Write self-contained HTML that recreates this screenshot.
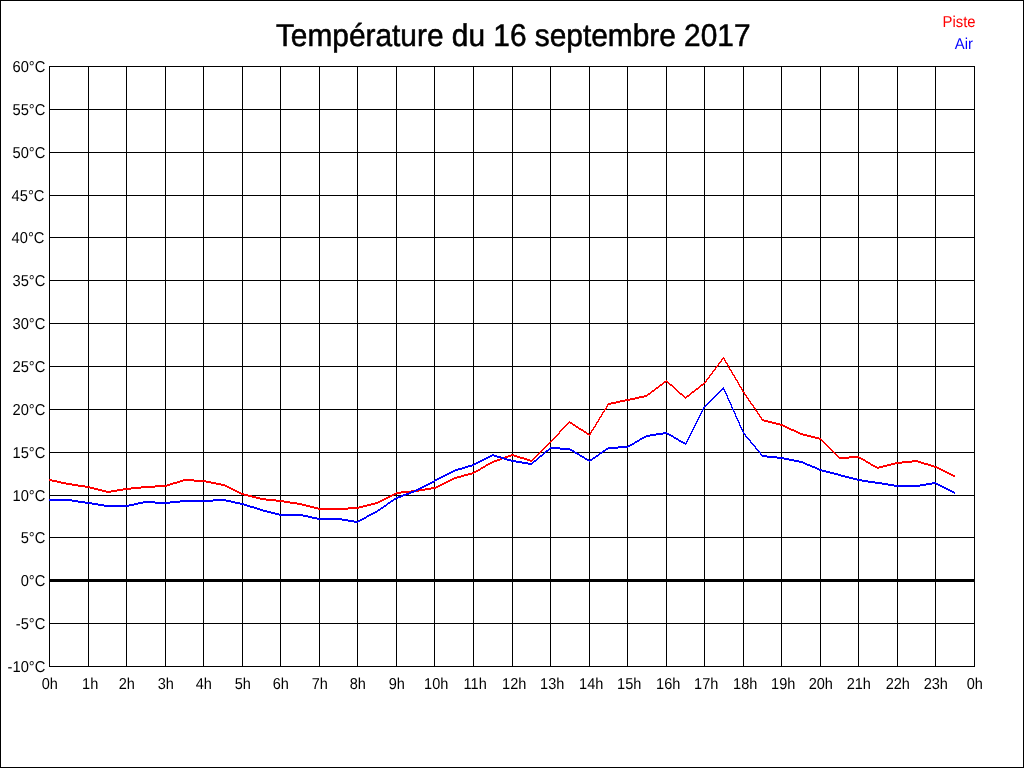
<!DOCTYPE html>
<html><head><meta charset="utf-8"><title>Température du 16 septembre 2017</title>
<style>
html,body{margin:0;padding:0;background:#fff;}
body{width:1024px;height:768px;overflow:hidden;position:relative;font-family:"Liberation Sans",sans-serif;}
svg{position:absolute;left:0;top:0;will-change:transform;}
text{font-family:"Liberation Sans",sans-serif;text-rendering:geometricPrecision;}
</style></head><body>
<svg width="1024" height="768" viewBox="0 0 1024 768">
<rect x="0.5" y="0.5" width="1023" height="767" fill="#fff" stroke="#000" stroke-width="1" shape-rendering="crispEdges"/>
<g stroke="#000" stroke-width="1" shape-rendering="crispEdges">
<line x1="49.5" y1="66" x2="49.5" y2="667"/>
<line x1="88.5" y1="66" x2="88.5" y2="667"/>
<line x1="126.5" y1="66" x2="126.5" y2="667"/>
<line x1="165.5" y1="66" x2="165.5" y2="667"/>
<line x1="203.5" y1="66" x2="203.5" y2="667"/>
<line x1="242.5" y1="66" x2="242.5" y2="667"/>
<line x1="280.5" y1="66" x2="280.5" y2="667"/>
<line x1="319.5" y1="66" x2="319.5" y2="667"/>
<line x1="357.5" y1="66" x2="357.5" y2="667"/>
<line x1="396.5" y1="66" x2="396.5" y2="667"/>
<line x1="434.5" y1="66" x2="434.5" y2="667"/>
<line x1="473.5" y1="66" x2="473.5" y2="667"/>
<line x1="512.5" y1="66" x2="512.5" y2="667"/>
<line x1="550.5" y1="66" x2="550.5" y2="667"/>
<line x1="589.5" y1="66" x2="589.5" y2="667"/>
<line x1="627.5" y1="66" x2="627.5" y2="667"/>
<line x1="666.5" y1="66" x2="666.5" y2="667"/>
<line x1="704.5" y1="66" x2="704.5" y2="667"/>
<line x1="743.5" y1="66" x2="743.5" y2="667"/>
<line x1="781.5" y1="66" x2="781.5" y2="667"/>
<line x1="820.5" y1="66" x2="820.5" y2="667"/>
<line x1="858.5" y1="66" x2="858.5" y2="667"/>
<line x1="897.5" y1="66" x2="897.5" y2="667"/>
<line x1="935.5" y1="66" x2="935.5" y2="667"/>
<line x1="974.5" y1="66" x2="974.5" y2="667"/>
<line x1="49" y1="66.5" x2="975" y2="66.5"/>
<line x1="49" y1="109.5" x2="975" y2="109.5"/>
<line x1="49" y1="152.5" x2="975" y2="152.5"/>
<line x1="49" y1="195.5" x2="975" y2="195.5"/>
<line x1="49" y1="237.5" x2="975" y2="237.5"/>
<line x1="49" y1="280.5" x2="975" y2="280.5"/>
<line x1="49" y1="323.5" x2="975" y2="323.5"/>
<line x1="49" y1="366.5" x2="975" y2="366.5"/>
<line x1="49" y1="409.5" x2="975" y2="409.5"/>
<line x1="49" y1="452.5" x2="975" y2="452.5"/>
<line x1="49" y1="495.5" x2="975" y2="495.5"/>
<line x1="49" y1="537.5" x2="975" y2="537.5"/>
<line x1="49" y1="580.5" x2="975" y2="580.5"/>
<line x1="49" y1="623.5" x2="975" y2="623.5"/>
<line x1="49" y1="666.5" x2="975" y2="666.5"/>
</g>
<rect x="49" y="579" width="926" height="3" fill="#000" shape-rendering="crispEdges"/>
<path fill="#f00" shape-rendering="crispEdges" d="M723 357h1v2h-1zM722 358h1v2h-1zM724 358h1v3h-1zM721 359h1v3h-1zM725 360h1v3h-1zM720 361h1v2h-1zM719 362h1v2h-1zM726 362h1v2h-1zM718 363h1v3h-1zM727 363h1v3h-1zM717 365h1v2h-1zM728 365h1v3h-1zM716 366h1v2h-1zM715 367h1v3h-1zM729 367h1v3h-1zM714 369h1v2h-1zM730 369h1v2h-1zM713 370h1v2h-1zM731 370h1v3h-1zM712 371h1v3h-1zM732 372h1v3h-1zM711 373h1v2h-1zM710 374h1v2h-1zM733 374h1v2h-1zM709 375h1v3h-1zM734 375h1v3h-1zM708 377h1v2h-1zM735 377h1v3h-1zM707 378h1v2h-1zM736 379h1v2h-1zM706 379h1v3h-1zM666 380h1v2h-1zM737 380h1v3h-1zM664 381h2v2h-2zM667 381h1v2h-1zM705 381h1v2h-1zM663 382h1v2h-1zM668 382h1v2h-1zM704 382h1v2h-1zM738 382h1v3h-1zM662 383h1v2h-1zM669 383h1v2h-1zM703 383h1v2h-1zM660 384h2v2h-2zM670 384h2v2h-2zM701 384h2v2h-2zM739 384h1v3h-1zM659 385h1v2h-1zM672 385h1v2h-1zM700 385h1v2h-1zM658 386h1v2h-1zM673 386h1v2h-1zM699 386h1v2h-1zM740 386h1v2h-1zM656 387h2v2h-2zM674 387h1v2h-1zM698 387h1v2h-1zM741 387h1v3h-1zM655 388h1v2h-1zM675 388h1v2h-1zM696 388h2v2h-2zM654 389h1v2h-1zM676 389h1v2h-1zM695 389h1v2h-1zM742 389h1v3h-1zM652 390h2v2h-2zM677 390h1v2h-1zM694 390h1v2h-1zM651 391h1v2h-1zM678 391h1v2h-1zM692 391h2v2h-2zM743 391h1v2h-1zM650 392h1v2h-1zM679 392h1v2h-1zM691 392h1v2h-1zM744 392h1v3h-1zM648 393h2v2h-2zM680 393h2v2h-2zM690 393h1v2h-1zM647 394h1v2h-1zM682 394h1v2h-1zM689 394h1v2h-1zM745 394h1v2h-1zM644 395h3v2h-3zM683 395h1v2h-1zM687 395h2v2h-2zM746 395h1v3h-1zM639 396h5v2h-5zM684 396h1v2h-1zM686 396h1v2h-1zM635 397h4v2h-4zM685 397h1v2h-1zM747 397h1v2h-1zM630 398h5v2h-5zM748 398h1v3h-1zM625 399h5v2h-5zM620 400h5v2h-5zM749 400h1v2h-1zM616 401h4v2h-4zM750 401h1v3h-1zM611 402h5v2h-5zM608 403h3v2h-3zM751 403h1v2h-1zM752 404h1v2h-1zM607 404h1v3h-1zM753 405h1v3h-1zM606 406h1v3h-1zM754 407h1v2h-1zM605 408h1v2h-1zM755 408h1v3h-1zM604 409h1v3h-1zM756 410h1v2h-1zM603 411h1v2h-1zM757 411h1v3h-1zM602 412h1v3h-1zM758 413h1v2h-1zM601 414h1v3h-1zM759 414h1v3h-1zM600 416h1v2h-1zM760 416h1v2h-1zM599 417h1v3h-1zM761 417h1v3h-1zM762 419h2v2h-2zM598 419h1v3h-1zM764 420h4v2h-4zM569 421h1v2h-1zM597 421h1v2h-1zM768 421h4v2h-4zM568 422h1v2h-1zM570 422h2v2h-2zM772 422h4v2h-4zM596 422h1v3h-1zM567 423h1v2h-1zM572 423h1v2h-1zM776 423h4v2h-4zM566 424h1v2h-1zM573 424h2v2h-2zM780 424h3v2h-3zM595 424h1v3h-1zM565 425h1v2h-1zM575 425h1v2h-1zM783 425h2v2h-2zM564 426h1v2h-1zM576 426h2v2h-2zM594 426h1v2h-1zM785 426h2v2h-2zM563 427h1v2h-1zM578 427h1v2h-1zM787 427h2v2h-2zM593 427h1v3h-1zM562 428h1v2h-1zM579 428h2v2h-2zM789 428h2v2h-2zM561 429h1v2h-1zM581 429h2v2h-2zM592 429h1v2h-1zM791 429h3v2h-3zM560 430h1v2h-1zM583 430h1v2h-1zM794 430h2v2h-2zM591 430h1v3h-1zM584 431h2v2h-2zM796 431h2v2h-2zM559 431h1v3h-1zM586 432h1v2h-1zM798 432h2v2h-2zM590 432h1v3h-1zM558 433h1v2h-1zM587 433h2v2h-2zM800 433h3v2h-3zM557 434h1v2h-1zM589 434h1v2h-1zM803 434h4v2h-4zM556 435h1v2h-1zM807 435h4v2h-4zM555 436h1v2h-1zM811 436h4v2h-4zM554 437h1v2h-1zM815 437h4v2h-4zM553 438h1v2h-1zM819 438h2v2h-2zM552 439h1v2h-1zM821 439h1v2h-1zM551 440h1v2h-1zM822 440h1v2h-1zM550 441h1v2h-1zM823 441h1v2h-1zM549 442h1v2h-1zM824 442h1v2h-1zM548 443h1v2h-1zM825 443h1v2h-1zM547 444h1v2h-1zM826 444h1v2h-1zM546 445h1v2h-1zM827 445h1v2h-1zM545 446h1v2h-1zM828 446h1v2h-1zM544 447h1v2h-1zM829 447h1v2h-1zM543 448h1v2h-1zM830 448h1v2h-1zM542 449h1v2h-1zM831 449h1v2h-1zM541 450h1v2h-1zM832 450h1v2h-1zM540 451h1v2h-1zM833 451h1v2h-1zM539 452h1v2h-1zM834 452h1v2h-1zM538 453h1v2h-1zM835 453h1v2h-1zM511 454h3v2h-3zM537 454h1v2h-1zM836 454h1v2h-1zM508 455h3v2h-3zM514 455h3v2h-3zM536 455h1v2h-1zM837 455h1v2h-1zM505 456h3v2h-3zM517 456h3v2h-3zM535 456h1v2h-1zM838 456h1v2h-1zM849 456h10v2h-10zM502 457h3v2h-3zM520 457h4v2h-4zM534 457h1v2h-1zM839 457h10v2h-10zM859 457h2v2h-2zM500 458h2v2h-2zM524 458h3v2h-3zM533 458h1v2h-1zM861 458h2v2h-2zM497 459h3v2h-3zM527 459h3v2h-3zM532 459h1v2h-1zM863 459h2v2h-2zM494 460h3v2h-3zM530 460h2v2h-2zM865 460h1v2h-1zM912 460h6v2h-6zM492 461h2v2h-2zM866 461h2v2h-2zM902 461h10v2h-10zM918 461h3v2h-3zM490 462h2v2h-2zM868 462h2v2h-2zM895 462h7v2h-7zM921 462h3v2h-3zM488 463h2v2h-2zM870 463h1v2h-1zM891 463h4v2h-4zM924 463h4v2h-4zM486 464h2v2h-2zM871 464h2v2h-2zM887 464h4v2h-4zM928 464h3v2h-3zM485 465h1v2h-1zM873 465h2v2h-2zM883 465h4v2h-4zM931 465h3v2h-3zM483 466h2v2h-2zM875 466h2v2h-2zM879 466h4v2h-4zM934 466h3v2h-3zM481 467h2v2h-2zM877 467h2v2h-2zM937 467h2v2h-2zM480 468h1v2h-1zM939 468h2v2h-2zM478 469h2v2h-2zM941 469h2v2h-2zM476 470h2v2h-2zM943 470h2v2h-2zM474 471h2v2h-2zM945 471h2v2h-2zM472 472h2v2h-2zM947 472h2v2h-2zM468 473h4v2h-4zM949 473h2v2h-2zM464 474h4v2h-4zM951 474h2v2h-2zM461 475h3v2h-3zM953 475h2v2h-2zM457 476h4v2h-4zM454 477h3v2h-3zM452 478h2v2h-2zM49 479h3v2h-3zM183 479h11v2h-11zM450 479h2v2h-2zM52 480h5v2h-5zM180 480h3v2h-3zM194 480h12v2h-12zM448 480h2v2h-2zM57 481h4v2h-4zM177 481h3v2h-3zM206 481h5v2h-5zM446 481h2v2h-2zM61 482h5v2h-5zM173 482h4v2h-4zM211 482h5v2h-5zM444 482h2v2h-2zM66 483h6v2h-6zM170 483h3v2h-3zM216 483h5v2h-5zM442 483h2v2h-2zM72 484h6v2h-6zM167 484h3v2h-3zM221 484h4v2h-4zM440 484h2v2h-2zM78 485h7v2h-7zM155 485h12v2h-12zM225 485h2v2h-2zM438 485h2v2h-2zM85 486h5v2h-5zM141 486h14v2h-14zM227 486h2v2h-2zM436 486h2v2h-2zM90 487h4v2h-4zM131 487h10v2h-10zM229 487h2v2h-2zM431 487h5v2h-5zM94 488h4v2h-4zM123 488h8v2h-8zM231 488h2v2h-2zM425 488h6v2h-6zM98 489h4v2h-4zM117 489h6v2h-6zM233 489h2v2h-2zM419 489h6v2h-6zM102 490h4v2h-4zM111 490h6v2h-6zM235 490h2v2h-2zM411 490h8v2h-8zM106 491h5v2h-5zM237 491h2v2h-2zM401 491h10v2h-10zM239 492h2v2h-2zM396 492h5v2h-5zM241 493h3v2h-3zM394 493h2v2h-2zM244 494h4v2h-4zM392 494h2v2h-2zM248 495h4v2h-4zM390 495h2v2h-2zM252 496h4v2h-4zM388 496h2v2h-2zM256 497h4v2h-4zM386 497h2v2h-2zM260 498h6v2h-6zM384 498h2v2h-2zM266 499h10v2h-10zM382 499h2v2h-2zM276 500h8v2h-8zM380 500h2v2h-2zM284 501h6v2h-6zM378 501h2v2h-2zM290 502h7v2h-7zM375 502h3v2h-3zM297 503h5v2h-5zM371 503h4v2h-4zM302 504h4v2h-4zM367 504h4v2h-4zM306 505h4v2h-4zM363 505h4v2h-4zM310 506h4v2h-4zM359 506h4v2h-4zM314 507h4v2h-4zM348 507h11v2h-11zM318 508h30v2h-30z"/>
<path fill="#00f" shape-rendering="crispEdges" d="M723 387h1v3h-1zM722 388h1v2h-1zM721 389h1v2h-1zM724 389h1v3h-1zM720 390h1v2h-1zM719 391h1v2h-1zM725 391h1v3h-1zM718 392h1v2h-1zM717 393h1v2h-1zM726 393h1v3h-1zM716 394h1v2h-1zM715 395h1v2h-1zM727 395h1v4h-1zM714 396h1v2h-1zM713 397h1v2h-1zM712 398h1v2h-1zM728 398h1v3h-1zM711 399h1v2h-1zM710 400h1v2h-1zM729 400h1v3h-1zM709 401h1v2h-1zM708 402h1v2h-1zM730 402h1v3h-1zM707 403h1v2h-1zM706 404h1v2h-1zM731 404h1v4h-1zM705 405h1v2h-1zM704 406h1v2h-1zM703 407h1v3h-1zM732 407h1v3h-1zM702 409h1v3h-1zM733 409h1v3h-1zM701 411h1v3h-1zM734 411h1v3h-1zM700 413h1v3h-1zM735 413h1v4h-1zM699 415h1v3h-1zM736 416h1v3h-1zM698 417h1v3h-1zM737 418h1v3h-1zM697 419h1v3h-1zM738 420h1v3h-1zM696 421h1v3h-1zM739 422h1v4h-1zM695 423h1v3h-1zM694 425h1v3h-1zM740 425h1v3h-1zM693 427h1v3h-1zM741 427h1v3h-1zM692 429h1v3h-1zM742 429h1v3h-1zM691 431h1v3h-1zM743 431h1v3h-1zM663 432h4v2h-4zM656 433h7v2h-7zM667 433h2v2h-2zM744 433h1v2h-1zM690 433h1v3h-1zM650 434h6v2h-6zM669 434h2v2h-2zM745 434h1v3h-1zM646 435h4v2h-4zM671 435h2v2h-2zM689 435h1v3h-1zM644 436h2v2h-2zM673 436h1v2h-1zM746 436h1v2h-1zM642 437h2v2h-2zM674 437h2v2h-2zM747 437h1v2h-1zM688 437h1v3h-1zM640 438h2v2h-2zM676 438h2v2h-2zM748 438h1v2h-1zM639 439h1v2h-1zM678 439h1v2h-1zM749 439h1v2h-1zM687 439h1v3h-1zM637 440h2v2h-2zM679 440h2v2h-2zM750 440h1v3h-1zM635 441h2v2h-2zM681 441h2v2h-2zM686 441h1v3h-1zM634 442h1v2h-1zM683 442h2v2h-2zM751 442h1v2h-1zM632 443h2v2h-2zM685 443h1v2h-1zM752 443h1v2h-1zM630 444h2v2h-2zM753 444h1v2h-1zM628 445h2v2h-2zM754 445h1v2h-1zM618 446h10v2h-10zM755 446h1v3h-1zM550 447h10v2h-10zM608 447h10v2h-10zM549 448h1v2h-1zM560 448h10v2h-10zM606 448h2v2h-2zM756 448h1v2h-1zM548 449h1v2h-1zM570 449h2v2h-2zM605 449h1v2h-1zM757 449h1v2h-1zM546 450h2v2h-2zM572 450h2v2h-2zM603 450h2v2h-2zM758 450h1v2h-1zM545 451h1v2h-1zM574 451h1v2h-1zM602 451h1v2h-1zM759 451h1v2h-1zM544 452h1v2h-1zM575 452h2v2h-2zM600 452h2v2h-2zM760 452h1v3h-1zM543 453h1v2h-1zM577 453h2v2h-2zM599 453h1v2h-1zM492 454h2v2h-2zM542 454h1v2h-1zM579 454h1v2h-1zM598 454h1v2h-1zM761 454h1v2h-1zM490 455h2v2h-2zM494 455h3v2h-3zM540 455h2v2h-2zM580 455h2v2h-2zM596 455h2v2h-2zM762 455h5v2h-5zM488 456h2v2h-2zM497 456h4v2h-4zM539 456h1v2h-1zM582 456h2v2h-2zM595 456h1v2h-1zM767 456h10v2h-10zM486 457h2v2h-2zM501 457h3v2h-3zM538 457h1v2h-1zM584 457h1v2h-1zM593 457h2v2h-2zM777 457h7v2h-7zM484 458h2v2h-2zM504 458h3v2h-3zM537 458h1v2h-1zM585 458h2v2h-2zM592 458h1v2h-1zM784 458h5v2h-5zM482 459h2v2h-2zM507 459h4v2h-4zM536 459h1v2h-1zM587 459h2v2h-2zM590 459h2v2h-2zM789 459h5v2h-5zM480 460h2v2h-2zM511 460h5v2h-5zM534 460h2v2h-2zM589 460h1v2h-1zM794 460h5v2h-5zM478 461h2v2h-2zM516 461h6v2h-6zM533 461h1v2h-1zM799 461h4v2h-4zM476 462h2v2h-2zM522 462h6v2h-6zM532 462h1v2h-1zM803 462h2v2h-2zM474 463h2v2h-2zM528 463h4v2h-4zM805 463h2v2h-2zM472 464h2v2h-2zM807 464h3v2h-3zM468 465h4v2h-4zM810 465h2v2h-2zM465 466h3v2h-3zM812 466h3v2h-3zM462 467h3v2h-3zM815 467h2v2h-2zM458 468h4v2h-4zM817 468h2v2h-2zM455 469h3v2h-3zM819 469h3v2h-3zM453 470h2v2h-2zM822 470h4v2h-4zM451 471h2v2h-2zM826 471h4v2h-4zM449 472h2v2h-2zM830 472h4v2h-4zM447 473h2v2h-2zM834 473h4v2h-4zM445 474h2v2h-2zM838 474h3v2h-3zM443 475h2v2h-2zM841 475h4v2h-4zM441 476h2v2h-2zM845 476h4v2h-4zM439 477h2v2h-2zM849 477h4v2h-4zM437 478h2v2h-2zM853 478h4v2h-4zM435 479h2v2h-2zM857 479h5v2h-5zM434 480h1v2h-1zM862 480h6v2h-6zM432 481h2v2h-2zM868 481h7v2h-7zM430 482h2v2h-2zM875 482h7v2h-7zM932 482h4v2h-4zM428 483h2v2h-2zM882 483h6v2h-6zM926 483h6v2h-6zM936 483h2v2h-2zM426 484h2v2h-2zM888 484h6v2h-6zM920 484h6v2h-6zM938 484h2v2h-2zM424 485h2v2h-2zM894 485h26v2h-26zM940 485h2v2h-2zM422 486h2v2h-2zM942 486h2v2h-2zM420 487h2v2h-2zM944 487h2v2h-2zM418 488h2v2h-2zM946 488h2v2h-2zM416 489h2v2h-2zM948 489h2v2h-2zM414 490h2v2h-2zM950 490h2v2h-2zM411 491h3v2h-3zM952 491h2v2h-2zM409 492h2v2h-2zM954 492h1v2h-1zM406 493h3v2h-3zM403 494h3v2h-3zM401 495h2v2h-2zM398 496h3v2h-3zM396 497h2v2h-2zM394 498h2v2h-2zM49 499h23v2h-23zM213 499h13v2h-13zM393 499h1v2h-1zM72 500h6v2h-6zM180 500h33v2h-33zM226 500h5v2h-5zM391 500h2v2h-2zM78 501h7v2h-7zM143 501h12v2h-12zM170 501h10v2h-10zM231 501h4v2h-4zM390 501h1v2h-1zM85 502h7v2h-7zM138 502h5v2h-5zM155 502h15v2h-15zM235 502h5v2h-5zM388 502h2v2h-2zM92 503h6v2h-6zM134 503h4v2h-4zM240 503h4v2h-4zM387 503h1v2h-1zM98 504h6v2h-6zM129 504h5v2h-5zM244 504h3v2h-3zM386 504h1v2h-1zM104 505h25v2h-25zM247 505h3v2h-3zM384 505h2v2h-2zM250 506h4v2h-4zM383 506h1v2h-1zM254 507h3v2h-3zM381 507h2v2h-2zM257 508h3v2h-3zM380 508h1v2h-1zM260 509h3v2h-3zM378 509h2v2h-2zM263 510h4v2h-4zM377 510h1v2h-1zM267 511h4v2h-4zM375 511h2v2h-2zM271 512h4v2h-4zM373 512h2v2h-2zM275 513h4v2h-4zM371 513h2v2h-2zM279 514h24v2h-24zM369 514h2v2h-2zM303 515h5v2h-5zM367 515h2v2h-2zM308 516h4v2h-4zM366 516h1v2h-1zM312 517h5v2h-5zM364 517h2v2h-2zM317 518h25v2h-25zM362 518h2v2h-2zM342 519h6v2h-6zM360 519h2v2h-2zM348 520h6v2h-6zM358 520h2v2h-2zM354 521h4v2h-4z"/>
<g font-size="15.8" fill="#000" text-anchor="end">
<text transform="translate(45.3,72) scale(0.93,1)">60°C</text>
<text transform="translate(45.3,115) scale(0.93,1)">55°C</text>
<text transform="translate(45.3,158) scale(0.93,1)">50°C</text>
<text transform="translate(44.4,201) scale(0.93,1)">45°C</text>
<text transform="translate(44.4,243) scale(0.93,1)">40°C</text>
<text transform="translate(45.3,286) scale(0.93,1)">35°C</text>
<text transform="translate(45.3,329) scale(0.93,1)">30°C</text>
<text transform="translate(45.3,372) scale(0.93,1)">25°C</text>
<text transform="translate(45.3,415) scale(0.93,1)">20°C</text>
<text transform="translate(45.3,458) scale(0.93,1)">15°C</text>
<text transform="translate(45.3,501) scale(0.93,1)">10°C</text>
<text transform="translate(45.3,543) scale(0.93,1)">5°C</text>
<text transform="translate(45.3,586) scale(0.93,1)">0°C</text>
<text transform="translate(45.3,629) scale(0.93,1)">-5°C</text>
<text transform="translate(45.3,672) scale(0.93,1)">-10°C</text>
</g>
<g font-size="15.8" fill="#000" text-anchor="middle">
<text transform="translate(49.8,689) scale(0.92,1)">0h</text>
<text transform="translate(90.2,689) scale(0.92,1)">1h</text>
<text transform="translate(126.8,689) scale(0.92,1)">2h</text>
<text transform="translate(165.8,689) scale(0.92,1)">3h</text>
<text transform="translate(203.8,689) scale(0.92,1)">4h</text>
<text transform="translate(242.8,689) scale(0.92,1)">5h</text>
<text transform="translate(280.8,689) scale(0.92,1)">6h</text>
<text transform="translate(319.8,689) scale(0.92,1)">7h</text>
<text transform="translate(357.8,689) scale(0.92,1)">8h</text>
<text transform="translate(396.8,689) scale(0.92,1)">9h</text>
<text transform="translate(436.2,689) scale(0.92,1)">10h</text>
<text transform="translate(475.2,689) scale(0.92,1)">11h</text>
<text transform="translate(514.2,689) scale(0.92,1)">12h</text>
<text transform="translate(552.2,689) scale(0.92,1)">13h</text>
<text transform="translate(591.2,689) scale(0.92,1)">14h</text>
<text transform="translate(629.2,689) scale(0.92,1)">15h</text>
<text transform="translate(668.2,689) scale(0.92,1)">16h</text>
<text transform="translate(706.2,689) scale(0.92,1)">17h</text>
<text transform="translate(745.2,689) scale(0.92,1)">18h</text>
<text transform="translate(783.2,689) scale(0.92,1)">19h</text>
<text transform="translate(820.8,689) scale(0.92,1)">20h</text>
<text transform="translate(858.8,689) scale(0.92,1)">21h</text>
<text transform="translate(897.8,689) scale(0.92,1)">22h</text>
<text transform="translate(935.8,689) scale(0.92,1)">23h</text>
<text transform="translate(974.8,689) scale(0.92,1)">0h</text>
</g>
<text transform="translate(513.2,46) scale(0.951,1)" font-size="31.4" text-anchor="middle" fill="#000" stroke="#000" stroke-width="0.55">Température du 16 septembre 2017</text>
<text transform="translate(975.6,27) scale(0.94,1)" font-size="15.8" text-anchor="end" fill="#f00">Piste</text>
<text transform="translate(972.9,49) scale(0.94,1)" font-size="15.8" text-anchor="end" fill="#00f">Air</text>
</svg></body></html>
